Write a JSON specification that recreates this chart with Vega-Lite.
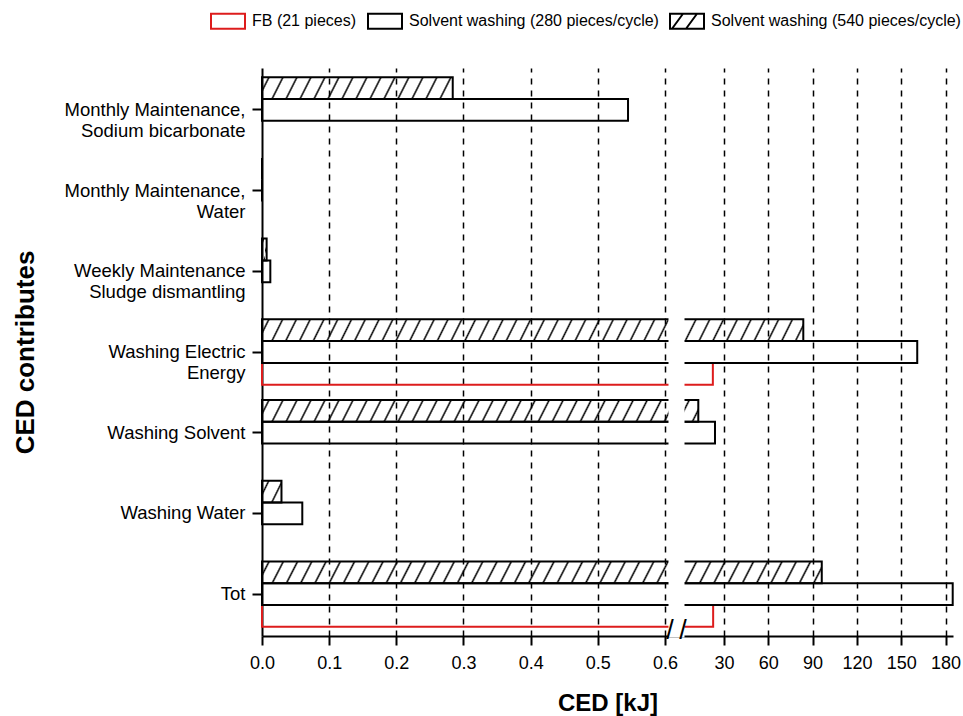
{
"$schema": "https://vega.github.io/schema/vega-lite/v6.json",
"autosize": "none",
"width": 691,
"height": 568,
"padding": {"left": 262, "top": 68, "right": 10, "bottom": 80},
"background": "white",
"config": {
  "font": "Liberation Sans",
  "view": {"stroke": null},
  "axis": {"labelColor": "black", "titleColor": "black", "domainColor": "black", "tickColor": "black"},
  "legend": {"labelColor": "black"}
},
"layer": [
  {
    "data": {"values": [
      {"cat": "Washing Electric Energy", "series": "FB (21 pieces)", "ced": 22.5},
      {"cat": "Tot", "series": "FB (21 pieces)", "ced": 22.7},
      {"cat": "Monthly Maintenance, Sodium bicarbonate", "series": "Solvent washing (280 pieces/cycle)", "ced": 0.545},
      {"cat": "Monthly Maintenance, Water", "series": "Solvent washing (280 pieces/cycle)", "ced": 0},
      {"cat": "Weekly Maintenance Sludge dismantling", "series": "Solvent washing (280 pieces/cycle)", "ced": 0.0124},
      {"cat": "Washing Electric Energy", "series": "Solvent washing (280 pieces/cycle)", "ced": 160.8},
      {"cat": "Washing Solvent", "series": "Solvent washing (280 pieces/cycle)", "ced": 23.95},
      {"cat": "Washing Water", "series": "Solvent washing (280 pieces/cycle)", "ced": 0.06},
      {"cat": "Tot", "series": "Solvent washing (280 pieces/cycle)", "ced": 184.8},
      {"cat": "Monthly Maintenance, Sodium bicarbonate", "series": "Solvent washing (540 pieces/cycle)", "ced": 0.284},
      {"cat": "Monthly Maintenance, Water", "series": "Solvent washing (540 pieces/cycle)", "ced": 0},
      {"cat": "Weekly Maintenance Sludge dismantling", "series": "Solvent washing (540 pieces/cycle)", "ced": 0.0069},
      {"cat": "Washing Electric Energy", "series": "Solvent washing (540 pieces/cycle)", "ced": 83.7},
      {"cat": "Washing Solvent", "series": "Solvent washing (540 pieces/cycle)", "ced": 12.65},
      {"cat": "Washing Water", "series": "Solvent washing (540 pieces/cycle)", "ced": 0.029},
      {"cat": "Tot", "series": "Solvent washing (540 pieces/cycle)", "ced": 96.2}
    ]},
    "mark": {"type": "bar", "strokeWidth": 2},
    "encoding": {
      "y": {
        "field": "cat", "type": "nominal", "title": "CED contributes",
        "scale": {"domain": ["Monthly Maintenance, Sodium bicarbonate", "Monthly Maintenance, Water", "Weekly Maintenance Sludge dismantling", "Washing Electric Energy", "Washing Solvent", "Washing Water", "Tot"], "paddingInner": 0.19, "paddingOuter": 0.114},
        "axis": {
          "labelExpr": "datum.value === 'Monthly Maintenance, Sodium bicarbonate' ? ['Monthly Maintenance,', 'Sodium bicarbonate'] : datum.value === 'Monthly Maintenance, Water' ? ['Monthly Maintenance,', 'Water'] : datum.value === 'Weekly Maintenance Sludge dismantling' ? ['Weekly Maintenance', 'Sludge dismantling'] : datum.value === 'Washing Electric Energy' ? ['Washing Electric', 'Energy'] : datum.label",
          "labelFontSize": 18.5, "labelLineHeight": 21, "labelPadding": 7, "labelLimit": 300,
          "tickSize": 10, "tickWidth": 2, "domainWidth": 2, "grid": false,
          "titleFontSize": 26, "titleFontWeight": "bold", "titlePadding": 26
        }
      },
      "yOffset": {
        "field": "series", "type": "nominal",
        "scale": {"domain": ["Solvent washing (540 pieces/cycle)", "Solvent washing (280 pieces/cycle)", "FB (21 pieces)"], "paddingInner": 0, "paddingOuter": 0}
      },
      "x": {
        "field": "ced", "type": "quantitative", "title": "CED [kJ]",
        "scale": {"domain": [0, 0.6075, 2.3, 185], "range": [0, 408, 421, 691], "nice": false, "zero": false},
        "axis": {
          "values": [0, 0.05, 0.1, 0.15, 0.2, 0.25, 0.3, 0.35, 0.4, 0.45, 0.5, 0.55, 0.6, 15, 30, 45, 60, 75, 90, 105, 120, 135, 150, 165, 180],
          "labelExpr": "indexof([0.05,0.15,0.25,0.35,0.45,0.55,15,45,75,105,135,165], datum.value) >= 0 ? '' : (datum.value < 1 ? format(datum.value, '.1f') : format(datum.value, 'd'))",
          "labelFontSize": 18, "labelPadding": 9, "labelFlush": false, "labelOverlap": false, "labelBound": false,
          "tickSize": {"condition": {"test": "indexof([0.05,0.15,0.25,0.35,0.45,0.55,15,45,75,105,135,165], datum.value) >= 0", "value": 5}, "value": 9},
          "tickWidth": 2, "domainWidth": 2,
          "grid": true, "gridColor": "black", "gridWidth": 1.5, "gridDash": [6, 6],
          "gridOpacity": {"condition": {"test": "datum.value === 0 || indexof([0.05,0.15,0.25,0.35,0.45,0.55,15,45,75,105,135,165], datum.value) >= 0", "value": 0}, "value": 1},
          "titleFontSize": 24, "titleFontWeight": "bold", "titlePadding": 19
        }
      },
      "stroke": {
        "field": "series", "type": "nominal",
        "scale": {"domain": ["FB (21 pieces)", "Solvent washing (280 pieces/cycle)", "Solvent washing (540 pieces/cycle)"], "range": ["#dd1c1c", "black", "black"]},
        "legend": {
          "orient": "none", "legendX": -43, "legendY": -56, "direction": "horizontal", "title": null,
          "symbolSize": 256, "symbolStrokeWidth": 2, "symbolFillColor": "transparent",
          "labelFontSize": 16, "labelOffset": 15, "columnPadding": 7, "padding": 0, "labelLimit": 400
        }
      },
      "fill": {
        "condition": [
          {"test": "datum.series === 'Solvent washing (540 pieces/cycle)' && datum.ced < 0.1", "value": {"gradient": "linear", "x1": 0, "y1": 0, "x2": 21.497, "y2": 11.823, "stops": [{"offset":0.0095,"color":"rgba(0,0,0,0)"},{"offset":0.0125,"color":"#000"},{"offset":0.0155,"color":"rgba(0,0,0,0)"},{"offset":0.0345,"color":"rgba(0,0,0,0)"},{"offset":0.0375,"color":"#000"},{"offset":0.0405,"color":"rgba(0,0,0,0)"}]}},
          {"test": "datum.series === 'Solvent washing (540 pieces/cycle)' && datum.ced < 1", "value": {"gradient": "linear", "x1": 0, "y1": 0, "x2": 2.9253, "y2": 0.16865, "stops": [
{"offset":0.0095,"color":"rgba(0,0,0,0)"},{"offset":0.0125,"color":"#000"},{"offset":0.0155,"color":"rgba(0,0,0,0)"},
{"offset":0.0345,"color":"rgba(0,0,0,0)"},{"offset":0.0375,"color":"#000"},{"offset":0.0405,"color":"rgba(0,0,0,0)"},
{"offset":0.0595,"color":"rgba(0,0,0,0)"},{"offset":0.0625,"color":"#000"},{"offset":0.0655,"color":"rgba(0,0,0,0)"},
{"offset":0.0845,"color":"rgba(0,0,0,0)"},{"offset":0.0875,"color":"#000"},{"offset":0.0905,"color":"rgba(0,0,0,0)"},
{"offset":0.1095,"color":"rgba(0,0,0,0)"},{"offset":0.1125,"color":"#000"},{"offset":0.1155,"color":"rgba(0,0,0,0)"},
{"offset":0.1345,"color":"rgba(0,0,0,0)"},{"offset":0.1375,"color":"#000"},{"offset":0.1405,"color":"rgba(0,0,0,0)"},
{"offset":0.1595,"color":"rgba(0,0,0,0)"},{"offset":0.1625,"color":"#000"},{"offset":0.1655,"color":"rgba(0,0,0,0)"},
{"offset":0.1845,"color":"rgba(0,0,0,0)"},{"offset":0.1875,"color":"#000"},{"offset":0.1905,"color":"rgba(0,0,0,0)"},
{"offset":0.2095,"color":"rgba(0,0,0,0)"},{"offset":0.2125,"color":"#000"},{"offset":0.2155,"color":"rgba(0,0,0,0)"},
{"offset":0.2345,"color":"rgba(0,0,0,0)"},{"offset":0.2375,"color":"#000"},{"offset":0.2405,"color":"rgba(0,0,0,0)"},
{"offset":0.2595,"color":"rgba(0,0,0,0)"},{"offset":0.2625,"color":"#000"},{"offset":0.2655,"color":"rgba(0,0,0,0)"},
{"offset":0.2845,"color":"rgba(0,0,0,0)"},{"offset":0.2875,"color":"#000"},{"offset":0.2905,"color":"rgba(0,0,0,0)"},
{"offset":0.3095,"color":"rgba(0,0,0,0)"},{"offset":0.3125,"color":"#000"},{"offset":0.3155,"color":"rgba(0,0,0,0)"},
{"offset":0.3345,"color":"rgba(0,0,0,0)"},{"offset":0.3375,"color":"#000"},{"offset":0.3405,"color":"rgba(0,0,0,0)"}
]}},
          {"test": "datum.series === 'Solvent washing (540 pieces/cycle)' && datum.ced < 20", "value": {"gradient": "linear", "x1": 0, "y1": 0, "x2": 1.28358, "y2": 0.032384, "stops": [
{"offset":0.0095,"color":"rgba(0,0,0,0)"},{"offset":0.0125,"color":"#000"},{"offset":0.0155,"color":"rgba(0,0,0,0)"},
{"offset":0.0345,"color":"rgba(0,0,0,0)"},{"offset":0.0375,"color":"#000"},{"offset":0.0405,"color":"rgba(0,0,0,0)"},
{"offset":0.0595,"color":"rgba(0,0,0,0)"},{"offset":0.0625,"color":"#000"},{"offset":0.0655,"color":"rgba(0,0,0,0)"},
{"offset":0.0845,"color":"rgba(0,0,0,0)"},{"offset":0.0875,"color":"#000"},{"offset":0.0905,"color":"rgba(0,0,0,0)"},
{"offset":0.1095,"color":"rgba(0,0,0,0)"},{"offset":0.1125,"color":"#000"},{"offset":0.1155,"color":"rgba(0,0,0,0)"},
{"offset":0.1345,"color":"rgba(0,0,0,0)"},{"offset":0.1375,"color":"#000"},{"offset":0.1405,"color":"rgba(0,0,0,0)"},
{"offset":0.1595,"color":"rgba(0,0,0,0)"},{"offset":0.1625,"color":"#000"},{"offset":0.1655,"color":"rgba(0,0,0,0)"},
{"offset":0.1845,"color":"rgba(0,0,0,0)"},{"offset":0.1875,"color":"#000"},{"offset":0.1905,"color":"rgba(0,0,0,0)"},
{"offset":0.2095,"color":"rgba(0,0,0,0)"},{"offset":0.2125,"color":"#000"},{"offset":0.2155,"color":"rgba(0,0,0,0)"},
{"offset":0.2345,"color":"rgba(0,0,0,0)"},{"offset":0.2375,"color":"#000"},{"offset":0.2405,"color":"rgba(0,0,0,0)"},
{"offset":0.2595,"color":"rgba(0,0,0,0)"},{"offset":0.2625,"color":"#000"},{"offset":0.2655,"color":"rgba(0,0,0,0)"},
{"offset":0.2845,"color":"rgba(0,0,0,0)"},{"offset":0.2875,"color":"#000"},{"offset":0.2905,"color":"rgba(0,0,0,0)"},
{"offset":0.3095,"color":"rgba(0,0,0,0)"},{"offset":0.3125,"color":"#000"},{"offset":0.3155,"color":"rgba(0,0,0,0)"},
{"offset":0.3345,"color":"rgba(0,0,0,0)"},{"offset":0.3375,"color":"#000"},{"offset":0.3405,"color":"rgba(0,0,0,0)"},
{"offset":0.3595,"color":"rgba(0,0,0,0)"},{"offset":0.3625,"color":"#000"},{"offset":0.3655,"color":"rgba(0,0,0,0)"},
{"offset":0.3845,"color":"rgba(0,0,0,0)"},{"offset":0.3875,"color":"#000"},{"offset":0.3905,"color":"rgba(0,0,0,0)"},
{"offset":0.4095,"color":"rgba(0,0,0,0)"},{"offset":0.4125,"color":"#000"},{"offset":0.4155,"color":"rgba(0,0,0,0)"},
{"offset":0.4345,"color":"rgba(0,0,0,0)"},{"offset":0.4375,"color":"#000"},{"offset":0.4405,"color":"rgba(0,0,0,0)"},
{"offset":0.4595,"color":"rgba(0,0,0,0)"},{"offset":0.4625,"color":"#000"},{"offset":0.4655,"color":"rgba(0,0,0,0)"},
{"offset":0.4845,"color":"rgba(0,0,0,0)"},{"offset":0.4875,"color":"#000"},{"offset":0.4905,"color":"rgba(0,0,0,0)"},
{"offset":0.5095,"color":"rgba(0,0,0,0)"},{"offset":0.5125,"color":"#000"},{"offset":0.5155,"color":"rgba(0,0,0,0)"},
{"offset":0.5345,"color":"rgba(0,0,0,0)"},{"offset":0.5375,"color":"#000"},{"offset":0.5405,"color":"rgba(0,0,0,0)"},
{"offset":0.5595,"color":"rgba(0,0,0,0)"},{"offset":0.5625,"color":"#000"},{"offset":0.5655,"color":"rgba(0,0,0,0)"},
{"offset":0.5845,"color":"rgba(0,0,0,0)"},{"offset":0.5875,"color":"#000"},{"offset":0.5905,"color":"rgba(0,0,0,0)"},
{"offset":0.6095,"color":"rgba(0,0,0,0)"},{"offset":0.6125,"color":"#000"},{"offset":0.6155,"color":"rgba(0,0,0,0)"},
{"offset":0.6345,"color":"rgba(0,0,0,0)"},{"offset":0.6375,"color":"#000"},{"offset":0.6405,"color":"rgba(0,0,0,0)"},
{"offset":0.6595,"color":"rgba(0,0,0,0)"},{"offset":0.6625,"color":"#000"},{"offset":0.6655,"color":"rgba(0,0,0,0)"},
{"offset":0.6845,"color":"rgba(0,0,0,0)"},{"offset":0.6875,"color":"#000"},{"offset":0.6905,"color":"rgba(0,0,0,0)"},
{"offset":0.7095,"color":"rgba(0,0,0,0)"},{"offset":0.7125,"color":"#000"},{"offset":0.7155,"color":"rgba(0,0,0,0)"},
{"offset":0.7345,"color":"rgba(0,0,0,0)"},{"offset":0.7375,"color":"#000"},{"offset":0.7405,"color":"rgba(0,0,0,0)"},
{"offset":0.7595,"color":"rgba(0,0,0,0)"},{"offset":0.7625,"color":"#000"},{"offset":0.7655,"color":"rgba(0,0,0,0)"},
{"offset":0.7845,"color":"rgba(0,0,0,0)"},{"offset":0.7875,"color":"#000"},{"offset":0.7905,"color":"rgba(0,0,0,0)"}
]}},
          {"test": "datum.series === 'Solvent washing (540 pieces/cycle)'", "value": {"gradient": "linear", "x1": 0, "y1": 0, "x2": 1.01777, "y2": 0.020355, "stops": [
{"offset":0.0095,"color":"rgba(0,0,0,0)"},{"offset":0.0125,"color":"#000"},{"offset":0.0155,"color":"rgba(0,0,0,0)"},
{"offset":0.0345,"color":"rgba(0,0,0,0)"},{"offset":0.0375,"color":"#000"},{"offset":0.0405,"color":"rgba(0,0,0,0)"},
{"offset":0.0595,"color":"rgba(0,0,0,0)"},{"offset":0.0625,"color":"#000"},{"offset":0.0655,"color":"rgba(0,0,0,0)"},
{"offset":0.0845,"color":"rgba(0,0,0,0)"},{"offset":0.0875,"color":"#000"},{"offset":0.0905,"color":"rgba(0,0,0,0)"},
{"offset":0.1095,"color":"rgba(0,0,0,0)"},{"offset":0.1125,"color":"#000"},{"offset":0.1155,"color":"rgba(0,0,0,0)"},
{"offset":0.1345,"color":"rgba(0,0,0,0)"},{"offset":0.1375,"color":"#000"},{"offset":0.1405,"color":"rgba(0,0,0,0)"},
{"offset":0.1595,"color":"rgba(0,0,0,0)"},{"offset":0.1625,"color":"#000"},{"offset":0.1655,"color":"rgba(0,0,0,0)"},
{"offset":0.1845,"color":"rgba(0,0,0,0)"},{"offset":0.1875,"color":"#000"},{"offset":0.1905,"color":"rgba(0,0,0,0)"},
{"offset":0.2095,"color":"rgba(0,0,0,0)"},{"offset":0.2125,"color":"#000"},{"offset":0.2155,"color":"rgba(0,0,0,0)"},
{"offset":0.2345,"color":"rgba(0,0,0,0)"},{"offset":0.2375,"color":"#000"},{"offset":0.2405,"color":"rgba(0,0,0,0)"},
{"offset":0.2595,"color":"rgba(0,0,0,0)"},{"offset":0.2625,"color":"#000"},{"offset":0.2655,"color":"rgba(0,0,0,0)"},
{"offset":0.2845,"color":"rgba(0,0,0,0)"},{"offset":0.2875,"color":"#000"},{"offset":0.2905,"color":"rgba(0,0,0,0)"},
{"offset":0.3095,"color":"rgba(0,0,0,0)"},{"offset":0.3125,"color":"#000"},{"offset":0.3155,"color":"rgba(0,0,0,0)"},
{"offset":0.3345,"color":"rgba(0,0,0,0)"},{"offset":0.3375,"color":"#000"},{"offset":0.3405,"color":"rgba(0,0,0,0)"},
{"offset":0.3595,"color":"rgba(0,0,0,0)"},{"offset":0.3625,"color":"#000"},{"offset":0.3655,"color":"rgba(0,0,0,0)"},
{"offset":0.3845,"color":"rgba(0,0,0,0)"},{"offset":0.3875,"color":"#000"},{"offset":0.3905,"color":"rgba(0,0,0,0)"},
{"offset":0.4095,"color":"rgba(0,0,0,0)"},{"offset":0.4125,"color":"#000"},{"offset":0.4155,"color":"rgba(0,0,0,0)"},
{"offset":0.4345,"color":"rgba(0,0,0,0)"},{"offset":0.4375,"color":"#000"},{"offset":0.4405,"color":"rgba(0,0,0,0)"},
{"offset":0.4595,"color":"rgba(0,0,0,0)"},{"offset":0.4625,"color":"#000"},{"offset":0.4655,"color":"rgba(0,0,0,0)"},
{"offset":0.4845,"color":"rgba(0,0,0,0)"},{"offset":0.4875,"color":"#000"},{"offset":0.4905,"color":"rgba(0,0,0,0)"},
{"offset":0.5095,"color":"rgba(0,0,0,0)"},{"offset":0.5125,"color":"#000"},{"offset":0.5155,"color":"rgba(0,0,0,0)"},
{"offset":0.5345,"color":"rgba(0,0,0,0)"},{"offset":0.5375,"color":"#000"},{"offset":0.5405,"color":"rgba(0,0,0,0)"},
{"offset":0.5595,"color":"rgba(0,0,0,0)"},{"offset":0.5625,"color":"#000"},{"offset":0.5655,"color":"rgba(0,0,0,0)"},
{"offset":0.5845,"color":"rgba(0,0,0,0)"},{"offset":0.5875,"color":"#000"},{"offset":0.5905,"color":"rgba(0,0,0,0)"},
{"offset":0.6095,"color":"rgba(0,0,0,0)"},{"offset":0.6125,"color":"#000"},{"offset":0.6155,"color":"rgba(0,0,0,0)"},
{"offset":0.6345,"color":"rgba(0,0,0,0)"},{"offset":0.6375,"color":"#000"},{"offset":0.6405,"color":"rgba(0,0,0,0)"},
{"offset":0.6595,"color":"rgba(0,0,0,0)"},{"offset":0.6625,"color":"#000"},{"offset":0.6655,"color":"rgba(0,0,0,0)"},
{"offset":0.6845,"color":"rgba(0,0,0,0)"},{"offset":0.6875,"color":"#000"},{"offset":0.6905,"color":"rgba(0,0,0,0)"},
{"offset":0.7095,"color":"rgba(0,0,0,0)"},{"offset":0.7125,"color":"#000"},{"offset":0.7155,"color":"rgba(0,0,0,0)"},
{"offset":0.7345,"color":"rgba(0,0,0,0)"},{"offset":0.7375,"color":"#000"},{"offset":0.7405,"color":"rgba(0,0,0,0)"},
{"offset":0.7595,"color":"rgba(0,0,0,0)"},{"offset":0.7625,"color":"#000"},{"offset":0.7655,"color":"rgba(0,0,0,0)"},
{"offset":0.7845,"color":"rgba(0,0,0,0)"},{"offset":0.7875,"color":"#000"},{"offset":0.7905,"color":"rgba(0,0,0,0)"},
{"offset":0.8095,"color":"rgba(0,0,0,0)"},{"offset":0.8125,"color":"#000"},{"offset":0.8155,"color":"rgba(0,0,0,0)"},
{"offset":0.8345,"color":"rgba(0,0,0,0)"},{"offset":0.8375,"color":"#000"},{"offset":0.8405,"color":"rgba(0,0,0,0)"},
{"offset":0.8595,"color":"rgba(0,0,0,0)"},{"offset":0.8625,"color":"#000"},{"offset":0.8655,"color":"rgba(0,0,0,0)"},
{"offset":0.8845,"color":"rgba(0,0,0,0)"},{"offset":0.8875,"color":"#000"},{"offset":0.8905,"color":"rgba(0,0,0,0)"},
{"offset":0.9095,"color":"rgba(0,0,0,0)"},{"offset":0.9125,"color":"#000"},{"offset":0.9155,"color":"rgba(0,0,0,0)"},
{"offset":0.9345,"color":"rgba(0,0,0,0)"},{"offset":0.9375,"color":"#000"},{"offset":0.9405,"color":"rgba(0,0,0,0)"},
{"offset":0.9595,"color":"rgba(0,0,0,0)"},{"offset":0.9625,"color":"#000"},{"offset":0.9655,"color":"rgba(0,0,0,0)"},
{"offset":0.9845,"color":"rgba(0,0,0,0)"},{"offset":0.9875,"color":"#000"},{"offset":0.9905,"color":"rgba(0,0,0,0)"}
]}}
        ],
        "value": "transparent"
      }
    }
  },
  {
    "data": {"values": []},
    "mark": {"type": "point", "filled": false, "strokeWidth": 2},
    "encoding": {
      "shape": {
        "field": "series", "type": "nominal",
        "scale": {"domain": ["FB (21 pieces)", "Solvent washing (280 pieces/cycle)", "Solvent washing (540 pieces/cycle)"], "range": ["M-2.125,-0.9375H2.125V0.9375H-2.125Z", "M-2.125,-0.9375H2.125V0.9375H-2.125Z", "M-2.125,-0.9375H2.125V0.9375H-2.125ZM-1.875,0.9375L-0.5,-0.9375M-0.125,0.9375L1.25,-0.9375"]},
        "legend": {
          "orient": "none", "legendX": -43, "legendY": -56, "direction": "horizontal", "title": null,
          "symbolSize": 256, "symbolStrokeWidth": 2, "symbolFillColor": "transparent",
          "labelFontSize": 16, "labelOffset": 15, "columnPadding": 7, "padding": 0, "labelLimit": 400
        }
      }
    }
  },
  {
    "data": {"values": [{}]},
    "mark": {"type": "rect", "fill": "white", "stroke": "white", "strokeWidth": 3},
    "encoding": {
      "x": {"datum": 0.6075, "type": "quantitative", "title": "CED [kJ]"},
      "x2": {"datum": 2.3}
    }
  },
  {
    "data": {"values": [{}]},
    "mark": {"type": "text", "text": "/", "fontSize": 27, "y": "height", "dy": -5, "align": "center", "baseline": "middle", "color": "black"},
    "encoding": {"x": {"datum": 0.6075, "type": "quantitative", "title": "CED [kJ]"}}
  },
  {
    "data": {"values": [{}]},
    "mark": {"type": "text", "text": "/", "fontSize": 27, "y": "height", "dy": -5, "align": "center", "baseline": "middle", "color": "black"},
    "encoding": {"x": {"datum": 2.3, "type": "quantitative", "title": "CED [kJ]"}}
  }
]
}
